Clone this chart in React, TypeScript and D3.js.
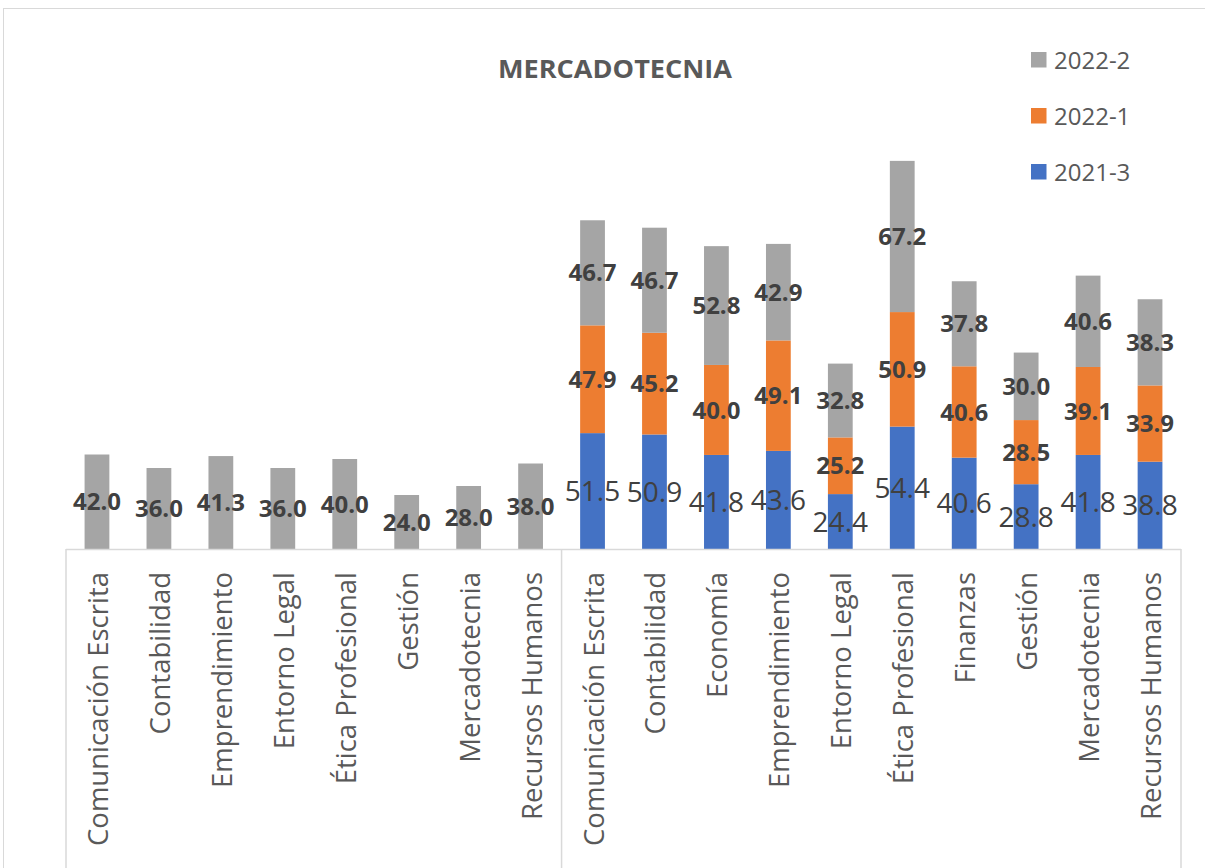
import React from "react";
import * as d3 from "d3";

const categories = [
  "Comunicación Escrita", "Contabilidad", "Emprendimiento", "Entorno Legal", "Ética Profesional",
  "Gestión", "Mercadotecnia", "Recursos Humanos",
  "Comunicación Escrita", "Contabilidad", "Economía", "Emprendimiento", "Entorno Legal",
  "Ética Profesional", "Finanzas", "Gestión", "Mercadotecnia", "Recursos Humanos",
];
const s2021_3: (number | null)[] = [null, null, null, null, null, null, null, null,
  51.5, 50.9, 41.8, 43.6, 24.4, 54.4, 40.6, 28.8, 41.8, 38.8];
const s2022_1: (number | null)[] = [null, null, null, null, null, null, null, null,
  47.9, 45.2, 40.0, 49.1, 25.2, 50.9, 40.6, 28.5, 39.1, 33.9];
const s2022_2: (number | null)[] = [42.0, 36.0, 41.3, 36.0, 40.0, 24.0, 28.0, 38.0,
  46.7, 46.7, 52.8, 42.9, 32.8, 67.2, 37.8, 30.0, 40.6, 38.3];
const groupSizes = [8, 10];

const seriesList = [
  { name: "2021-3", values: s2021_3, color: "#4472C4", bold: false, size: 28 },
  { name: "2022-1", values: s2022_1, color: "#ED7D31", bold: true, size: 24 },
  { name: "2022-2", values: s2022_2, color: "#A5A5A5", bold: true, size: 24 },
];
const legendOrder = ["2022-2", "2022-1", "2021-3"];

const W = 1205, H = 868;
const FONT = "'Open Sans', 'Noto Sans', sans-serif";

export default function App() {
  const idx = categories.map((_, i) => String(i));
  const x = d3.scaleBand<string>().domain(idx).range([66, 1181]).paddingInner(0.6).paddingOuter(0.3);
  const y = d3.scaleLinear().domain([0, 180]).range([549, 144]);
  const step = x.step();
  const axisY = y(0);

  const segs: any[] = [];
  categories.forEach((_, i) => {
    let base = 0;
    seriesList.forEach((s) => {
      const v = s.values[i];
      if (v == null) return;
      segs.push({ i, s, v, y0: base, y1: base + v });
      base += v;
    });
  });

  const boundaries: number[] = [];
  let acc = 0;
  boundaries.push(66);
  groupSizes.forEach((g) => { acc += g; boundaries.push(66 + acc * step); });

  return (
    <svg width={W} height={H} style={{ position: "absolute", left: 0, top: 0, background: "#fff" }}>
      <rect x={3.5} y={8.5} width={W + 10} height={H + 10} fill="#fff" stroke="#D9D9D9" strokeWidth={1} />
      <text x={615} y={78} textAnchor="middle" fontFamily={FONT} fontWeight={700} fontSize={25}
        textLength={234} lengthAdjust="spacingAndGlyphs" fill="#595959">MERCADOTECNIA</text>
      {segs.map((d, k) => (
        <rect key={k} x={x(String(d.i))} y={y(d.y1)} width={x.bandwidth()} height={y(d.y0) - y(d.y1)} fill={d.s.color} />
      ))}
      {/* category axis */}
      <line x1={66} x2={1181} y1={axisY + 0.5} y2={axisY + 0.5} stroke="#D9D9D9" strokeWidth={1.5} />
      {boundaries.map((b, k) => (
        <line key={k} x1={b} x2={b} y1={axisY} y2={H} stroke="#D9D9D9" strokeWidth={1.5} />
      ))}
      {segs.map((d, k) => (
        <text key={"l" + k} x={(x(String(d.i)) as number) + x.bandwidth() / 2} y={(y(d.y0) + y(d.y1)) / 2}
          dy="0.36em" textAnchor="middle" fontFamily={FONT} fontWeight={d.s.bold ? 700 : 400}
          fontSize={d.s.size} fill="#404040">{d.v.toFixed(1)}</text>
      ))}
      {categories.map((c, i) => {
        const cx = (x(String(i)) as number) + x.bandwidth() / 2;
        return (
          <text key={"c" + i} transform={`translate(${cx + 11},572) rotate(-90)`} textAnchor="end"
            fontFamily={FONT} fontSize={27.5} fill="#595959">{c}</text>
        );
      })}
      {legendOrder.map((n, k) => {
        const s = seriesList.find((q) => q.name === n)!;
        const cy = 60 + k * 56;
        return (
          <g key={n}>
            <rect x={1031} y={cy - 8} width={15.5} height={15.5} fill={s.color} />
            <text x={1054} y={cy} dy="0.36em" fontFamily={FONT} fontSize={24} fill="#595959">{n}</text>
          </g>
        );
      })}
    </svg>
  );
}
